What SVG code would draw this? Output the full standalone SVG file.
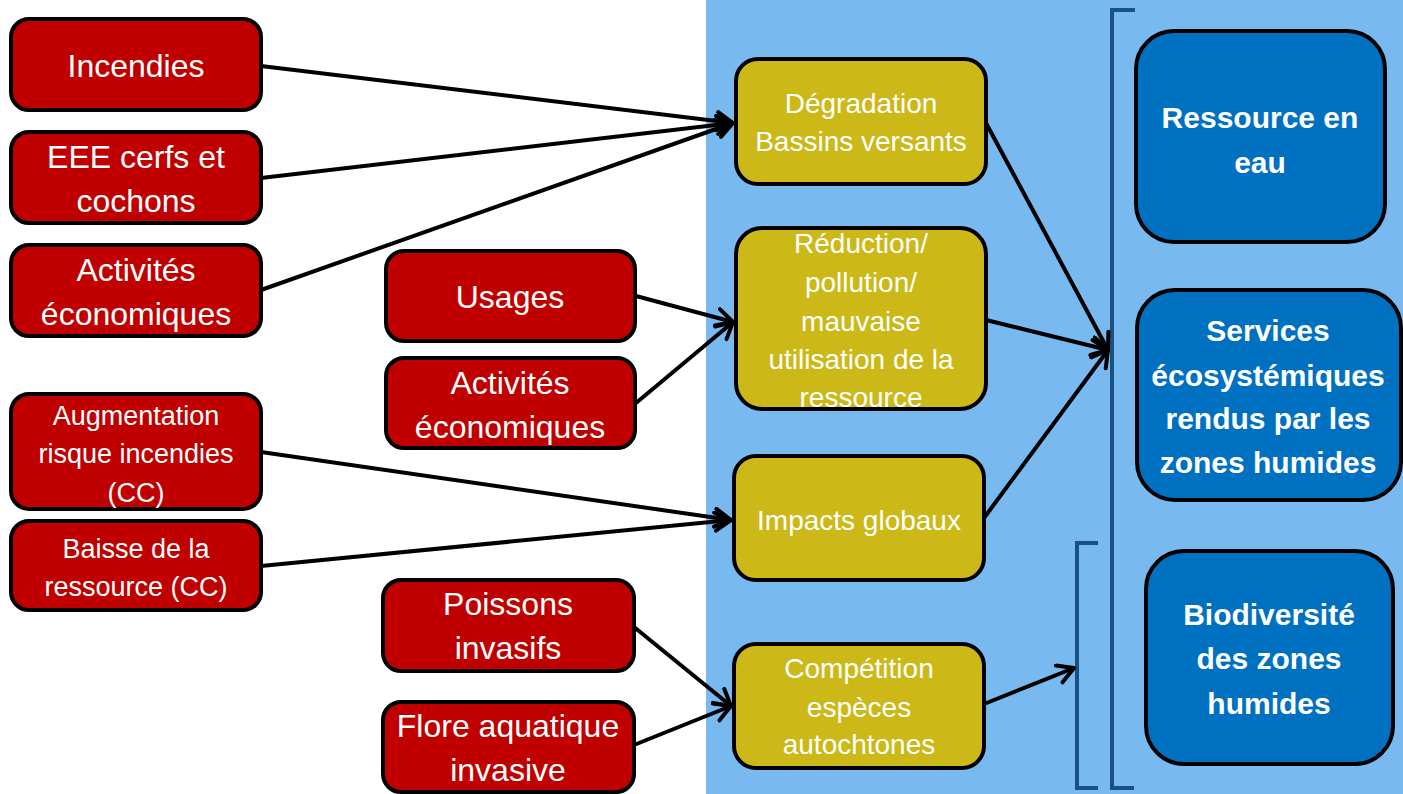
<svg xmlns="http://www.w3.org/2000/svg" width="1403" height="794" viewBox="0 0 1403 794">
<style>
.red{fill:#C00000;stroke:#000;stroke-width:4}
.yel{fill:#CCB817;stroke:#000;stroke-width:4}
.blu{fill:#0070C0;stroke:#000;stroke-width:4}
.t{font-family:"Liberation Sans",Arial,sans-serif;fill:#fff;text-anchor:middle}
.tr{font-size:32px}
.ts{font-size:27px}
.ty{font-size:28px}
.tb{font-size:30px;font-weight:bold}
.c{stroke:#000;stroke-width:4;fill:none;marker-end:url(#ah)}
.br{stroke:#1A5185;stroke-width:4;fill:none}
</style>
<defs>
<marker id="ah" markerUnits="userSpaceOnUse" markerWidth="26" markerHeight="26" refX="18" refY="11" orient="auto">
<path d="M2,2 L18,11 L2,20" fill="none" stroke="#000" stroke-width="4" stroke-linecap="round" stroke-linejoin="round"/>
</marker>
</defs>
<rect x="0" y="0" width="1403" height="794" fill="#fff"/>
<rect x="706" y="0" width="697" height="794" fill="#78B9F0"/>
<g id="brackets">
<path class="br" d="M1135,10 H1112 V788 H1134"/>
<path class="br" d="M1098,543 H1077 V788 H1098"/>
</g>
<g id="connectors">
<line class="c" x1="261" y1="66" x2="733" y2="123"/>
<line class="c" x1="261" y1="178" x2="733" y2="123"/>
<line class="c" x1="261" y1="290" x2="733" y2="123"/>
<line class="c" x1="636" y1="296" x2="733" y2="322"/>
<line class="c" x1="636" y1="403" x2="733" y2="322"/>
<line class="c" x1="261" y1="452" x2="731" y2="520"/>
<line class="c" x1="261" y1="566" x2="731" y2="520"/>
<line class="c" x1="634" y1="627" x2="731" y2="706"/>
<line class="c" x1="634" y1="745" x2="731" y2="706"/>
<line class="c" x1="986" y1="123" x2="1108" y2="350"/>
<line class="c" x1="986" y1="320" x2="1108" y2="350"/>
<line class="c" x1="984" y1="518" x2="1108" y2="350"/>
<line class="c" x1="984" y1="704" x2="1074" y2="668"/>
</g>
<g id="incendies"><rect class="red" x="11" y="19" width="250" height="91" rx="18"/><text class="t tr" x="136" y="77">Incendies</text></g>
<g id="eee"><rect class="red" x="11" y="132" width="250" height="91" rx="18"/><text class="t tr" x="136" y="168">EEE cerfs et</text><text class="t tr" x="136" y="212">cochons</text></g>
<g id="activites1"><rect class="red" x="11" y="245" width="250" height="91" rx="18"/><text class="t tr" x="136" y="281">Activités</text><text class="t tr" x="136" y="325">économiques</text></g>
<g id="usages"><rect class="red" x="386" y="251" width="249" height="90" rx="18"/><text class="t tr" x="510" y="308">Usages</text></g>
<g id="activites2"><rect class="red" x="386" y="358" width="249" height="90" rx="18"/><text class="t tr" x="510" y="394">Activités</text><text class="t tr" x="510" y="438">économiques</text></g>
<g id="augmentation"><rect class="red" x="11" y="394" width="250" height="115" rx="18"/><text class="t ts" x="136" y="425">Augmentation</text><text class="t ts" x="136" y="463">risque incendies</text><text class="t ts" x="136" y="502">(CC)</text></g>
<g id="baisse"><rect class="red" x="11" y="521" width="250" height="89" rx="18"/><text class="t ts" x="136" y="558">Baisse de la</text><text class="t ts" x="136" y="596">ressource (CC)</text></g>
<g id="poissons"><rect class="red" x="383" y="580" width="251" height="91" rx="18"/><text class="t tr" x="508" y="615">Poissons</text><text class="t tr" x="508" y="659">invasifs</text></g>
<g id="flore"><rect class="red" x="383" y="702" width="251" height="90" rx="18"/><text class="t tr" x="508" y="737">Flore aquatique</text><text class="t tr" x="508" y="781">invasive</text></g>
<g id="degradation"><rect class="yel" x="736" y="59" width="250" height="125" rx="22"/><text class="t ty" x="861" y="113">Dégradation</text><text class="t ty" x="861" y="151">Bassins versants</text></g>
<g id="reduction"><rect class="yel" x="736" y="228" width="250" height="181" rx="26"/><text class="t ty" x="861" y="253">Réduction/</text><text class="t ty" x="861" y="292">pollution/</text><text class="t ty" x="861" y="331">mauvaise</text><text class="t ty" x="861" y="369">utilisation de la</text><text class="t ty" x="861" y="407">ressource</text></g>
<g id="impacts"><rect class="yel" x="734" y="456" width="250" height="124" rx="22"/><text class="t ty" x="859" y="530">Impacts globaux</text></g>
<g id="competition"><rect class="yel" x="734" y="644" width="250" height="124" rx="22"/><text class="t ty" x="859" y="678">Compétition</text><text class="t ty" x="859" y="717">espèces</text><text class="t ty" x="859" y="754">autochtones</text></g>
<g id="ressource"><rect class="blu" x="1136" y="31" width="249" height="211" rx="38"/><text class="t tb" x="1260" y="128">Ressource en</text><text class="t tb" x="1260" y="173">eau</text></g>
<g id="services"><rect class="blu" x="1137" y="290" width="264" height="210" rx="38"/><text class="t tb" x="1268" y="341">Services</text><text class="t tb" x="1268" y="386">écosystémiques</text><text class="t tb" x="1268" y="429">rendus par les</text><text class="t tb" x="1268" y="473">zones humides</text></g>
<g id="biodiversite"><rect class="blu" x="1146" y="551" width="247" height="213" rx="38"/><text class="t tb" x="1269" y="625">Biodiversité</text><text class="t tb" x="1269" y="669">des zones</text><text class="t tb" x="1269" y="714">humides</text></g>
</svg>
